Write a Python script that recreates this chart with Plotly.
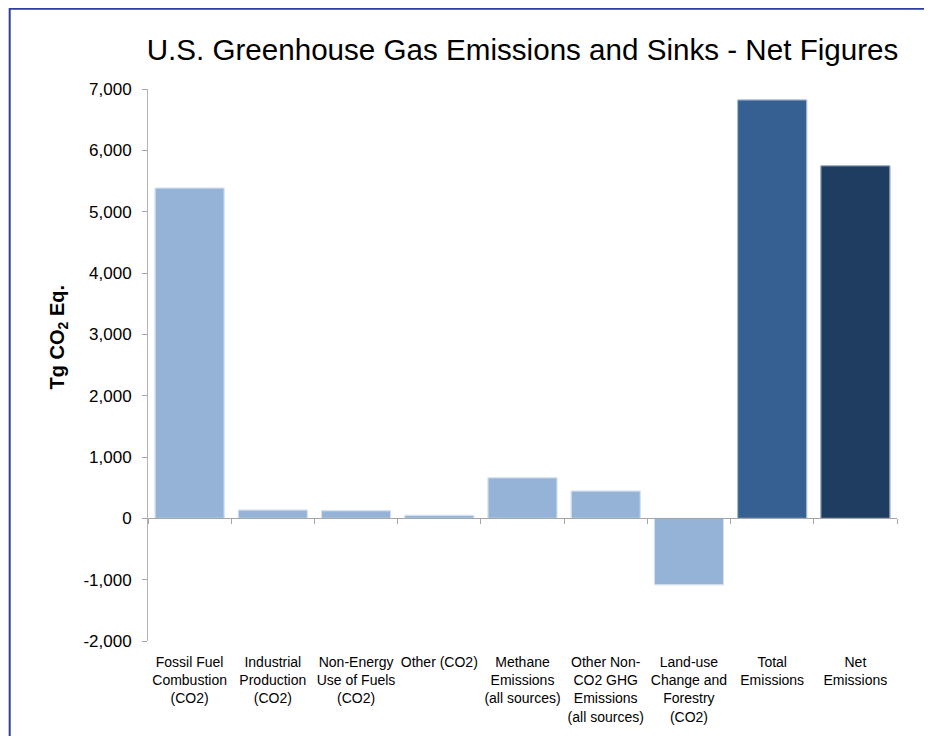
import plotly.graph_objects as go

categories = [
    "Fossil Fuel<br>Combustion<br>(CO2)",
    "Industrial<br>Production<br>(CO2)",
    "Non-Energy<br>Use of Fuels<br>(CO2)",
    "Other (CO2)",
    "Methane<br>Emissions<br>(all sources)",
    "Other Non-<br>CO2 GHG<br>Emissions<br>(all sources)",
    "Land-use<br>Change and<br>Forestry<br>(CO2)",
    "Total<br>Emissions",
    "Net<br>Emissions",
]
values = [5385, 135, 124, 49, 661, 445, -1083, 6822, 5748]
bar_colors = ["#95B3D7"] * 7 + ["#366092", "#1F3D60"]
line_colors = ["#C9D8EB"] * 7 + ["#6F8FB8", "#5F7B9C"]

ytick_vals = [-2000, -1000, 0, 1000, 2000, 3000, 4000, 5000, 6000, 7000]
ytick_text = ["-2,000", "-1,000", "0", "1,000", "2,000", "3,000", "4,000", "5,000", "6,000", "7,000"]

FONT = "Liberation Sans, Arial, Helvetica, sans-serif"

# page body has an 8px margin, so the figure is sized/shifted to compensate
W, H = 924, 728
ML, MR, MT, MB = 139.5, 34.5, 81.3, 95
PW, PH = W - ML - MR, H - MT - MB

fig = go.Figure()
fig.add_trace(go.Bar(
    x=categories, y=values,
    marker=dict(color=bar_colors, line=dict(color=line_colors, width=1)),
    showlegend=False, hoverinfo="x+y",
))
# invisible copy on a second x-axis used to draw the zero-line category axis
fig.add_trace(go.Bar(
    x=categories, y=values, xaxis="x2",
    marker=dict(color="rgba(0,0,0,0)"),
    showlegend=False, hoverinfo="skip",
))

fig.update_layout(
    width=W, height=H,
    paper_bgcolor="white", plot_bgcolor="white",
    margin=dict(l=ML, r=MR, t=MT, b=MB, autoexpand=False),
    bargap=0.17,
    font=dict(family=FONT, color="black"),
    title=dict(
        text="U.S. Greenhouse Gas Emissions and Sinks - Net Figures",
        font=dict(family=FONT, size=29.6, color="black"),
        x=0.5, xref="paper", xanchor="center",
        y=1 - 42 / H, yref="container", yanchor="middle",
    ),
    xaxis=dict(
        type="category",
        showline=False, showgrid=False, zeroline=False,
        ticks="", tickfont=dict(size=14, color="black"),
        ticklabelstandoff=11,
    ),
    xaxis2=dict(
        type="category", overlaying="x", matches="x",
        anchor="free", position=2 / 9, side="bottom",
        showline=True, linecolor="#A6A6A6", linewidth=1,
        ticks="outside", tickson="boundaries", ticklen=5, tickcolor="#A6A6A6",
        showticklabels=False, showgrid=False, zeroline=False,
    ),
    yaxis=dict(
        range=[-2000, 7000],
        tickvals=ytick_vals, ticktext=ytick_text,
        tickfont=dict(size=17, color="black"),
        ticklabelstandoff=7,
        showline=True, linecolor="#B3B3B3", linewidth=1,
        ticks="outside", ticklen=5, tickcolor="#A6A6A6",
        showgrid=False, zeroline=False,
    ),
    annotations=[dict(
        text="<b>Tg CO<sub>2</sub> Eq.</b>",
        xref="paper", yref="paper",
        x=(50 - ML) / PW, y=(H - MB - 330) / PH,
        xanchor="center", yanchor="middle",
        textangle=-90, showarrow=False,
        font=dict(family=FONT, size=20, color="black"),
    )],
    shapes=[dict(
        type="rect", xref="paper", yref="paper",
        x0=(1 - ML) / PW, x1=1.3, y0=-0.5, y1=(H - MB - 1) / PH,
        line=dict(color="#2E3D9E", width=2), fillcolor="rgba(0,0,0,0)",
        layer="below",
    )],
)

fig.write_html("out.html")
